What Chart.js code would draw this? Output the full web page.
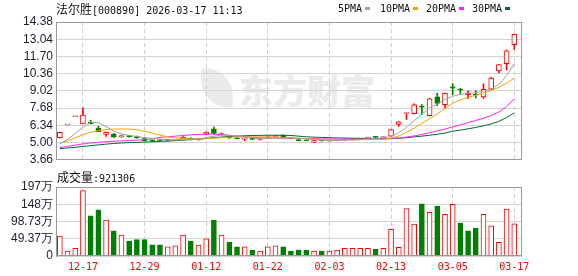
<!DOCTYPE html>
<html><head><meta charset="utf-8">
<script src="https://cdn.jsdelivr.net/npm/chart.js@4.4.1/dist/chart.umd.min.js"></script>
<style>
html,body{margin:0;padding:0;background:#fff;width:578px;height:276px;overflow:hidden;position:relative}
canvas{position:absolute;left:0}
#c1{top:0}
#c2{top:168px}
.t{position:absolute;white-space:nowrap;color:#111;line-height:14px}
.m{font-family:"DejaVu Sans Mono",monospace;font-size:10px}
.c{font-family:"Noto Sans CJK SC",sans-serif;font-size:12px}
.sw{position:absolute;width:5px;height:3px;top:7px}
#wm{position:absolute;left:239px;top:72px;font-family:"Noto Sans CJK SC",sans-serif;font-weight:900;font-size:34px;color:#ebebeb;line-height:36px}
#wmi{position:absolute;left:201px;top:68px;width:32px;height:40px;border-radius:4px 32px 4px 32px;background:#ebebeb}
</style></head>
<body>
<div id="wmi"></div>
<div id="wm">东方财富</div>
<canvas id="c1" width="578" height="170"></canvas>
<canvas id="c2" width="578" height="108"></canvas>
<div class="t" style="left:56px;top:2px"><span class="c">法尔胜</span><span class="m">[000890] 2026-03-17 11:13</span></div>
<div class="t m" style="left:338px;top:2px">5PMA</div><div class="sw" style="left:365px;background:#a8a8a8"></div>
<div class="t m" style="left:380px;top:2px">10PMA</div><div class="sw" style="left:413px;background:#f5a300"></div>
<div class="t m" style="left:426px;top:2px">20PMA</div><div class="sw" style="left:459px;background:#ff22ff"></div>
<div class="t m" style="left:472px;top:2px">30PMA</div><div class="sw" style="left:505px;background:#006a2e"></div>
<div class="t" style="left:57px;top:170px"><span class="c">成交量</span><span class="m">:921306</span></div>
<script>
const dates = ['12-12','12-15','12-16','12-17','12-18','12-19','12-22','12-23','12-24','12-25','12-26','12-29','12-30','12-31','01-05','01-06','01-07','01-08','01-09','01-12','01-13','01-14','01-15','01-16','01-19','01-20','01-21','01-22','01-23','01-26','01-27','01-28','01-29','01-30','02-02','02-03','02-04','02-05','02-06','02-09','02-10','02-11','02-12','02-13','02-24','02-25','02-26','02-27','03-02','03-03','03-04','03-05','03-06','03-09','03-10','03-11','03-12','03-13','03-16','03-17'];
const openP  = [5.39,6.37,7.01,6.46,6.60,6.13,5.64,5.64,5.46,5.52,5.47,5.32,5.20,5.20,5.16,5.19,5.26,5.34,5.22,5.67,6.06,5.62,5.46,5.33,5.27,5.32,5.24,5.37,5.45,5.56,5.36,5.22,5.20,5.03,5.15,5.13,5.15,5.20,5.24,5.28,5.32,5.42,5.38,5.50,6.42,7.26,7.24,7.82,7.10,8.56,7.94,9.33,9.17,8.73,8.76,8.56,9.15,10.58,11.13,12.61];
const highP  = [5.81,6.37,7.01,7.71,6.73,6.28,5.82,5.72,5.58,5.56,5.50,5.34,5.22,5.24,5.22,5.26,5.46,5.36,5.30,5.84,6.21,5.75,5.50,5.36,5.35,5.34,5.30,5.46,5.56,5.60,5.38,5.24,5.22,5.18,5.18,5.18,5.22,5.30,5.30,5.33,5.42,5.46,5.45,6.02,6.64,7.28,8.01,7.96,8.45,8.85,8.85,9.59,9.22,9.02,9.04,9.57,10.07,11.07,12.19,13.42];
const lowP   = [5.36,6.37,7.01,6.46,6.45,5.82,5.48,5.40,5.40,5.42,5.35,5.12,5.08,5.12,5.10,5.15,5.24,5.20,5.18,5.62,5.70,5.55,5.33,5.28,5.13,5.22,5.18,5.35,5.42,5.36,5.28,5.12,5.12,5.00,5.10,5.10,5.12,5.16,5.22,5.25,5.30,5.34,5.36,5.48,6.26,6.80,7.22,7.20,7.08,7.87,7.69,8.73,8.78,8.43,8.48,8.43,9.12,10.41,10.65,12.24];
const closeP = [5.79,6.37,7.01,7.13,6.48,5.84,5.80,5.42,5.50,5.46,5.38,5.15,5.14,5.16,5.19,5.24,5.42,5.22,5.27,5.80,5.72,5.66,5.36,5.30,5.33,5.25,5.27,5.44,5.53,5.38,5.30,5.15,5.14,5.16,5.13,5.15,5.20,5.24,5.28,5.30,5.40,5.40,5.44,6.02,6.62,7.28,7.94,7.76,8.41,8.04,8.83,9.24,9.07,8.87,8.70,9.15,10.01,11.07,12.13,13.42];
// volume in 万手, and its colour (r = rise, g = fall)
const volume = [57,14,22,187,115,132,103,72,60,43,47,47,32,32,26,29,60,43,31,49,103,60,40,26,26,17,14,26,29,26,14,17,17,14,14,14,17,22,22,22,22,20,22,76,25,136,91,149,125,143,119,148,94,72,79,119,86,39,134,92.13];
const volDir = ['r','r','r','r','g','g','r','g','r','g','g','g','g','g','r','r','r','g','r','r','g','r','g','g','r','g','r','r','r','g','g','g','g','r','g','r','r','r','r','r','r','g','r','r','r','r','r','g','r','g','r','r','g','g','g','r','r','r','r','r'];
const ma5  = [4.90,5.25,5.70,6.20,6.58,6.55,6.25,5.88,5.68,5.55,5.48,5.38,5.33,5.26,5.23,5.19,5.24,5.25,5.27,5.39,5.49,5.59,5.57,5.52,5.47,5.36,5.29,5.31,5.36,5.36,5.36,5.35,5.30,5.23,5.18,5.15,5.16,5.18,5.20,5.23,5.28,5.32,5.36,5.48,5.76,6.18,6.72,7.20,7.70,8.00,8.35,8.60,8.75,8.82,8.88,9.00,9.15,9.55,10.20,11.15];
const ma10 = [4.95,5.12,5.38,5.62,5.80,5.92,6.00,6.05,6.06,6.05,6.00,5.88,5.73,5.58,5.45,5.36,5.32,5.30,5.27,5.30,5.35,5.38,5.42,5.44,5.46,5.45,5.44,5.43,5.44,5.40,5.36,5.32,5.30,5.27,5.24,5.22,5.21,5.21,5.21,5.22,5.23,5.24,5.26,5.35,5.52,5.80,6.12,6.50,6.85,7.22,7.65,8.05,8.32,8.52,8.68,8.85,9.05,9.30,9.62,10.02];
const ma20 = [4.61,4.70,4.80,4.90,4.97,5.02,5.07,5.10,5.13,5.16,5.19,5.22,5.30,5.40,5.46,5.50,5.55,5.60,5.63,5.66,5.65,5.62,5.57,5.49,5.43,5.40,5.37,5.36,5.35,5.34,5.33,5.32,5.31,5.30,5.29,5.28,5.27,5.27,5.27,5.27,5.27,5.27,5.27,5.30,5.36,5.43,5.52,5.63,5.76,5.90,6.05,6.22,6.38,6.55,6.72,6.90,7.10,7.38,7.80,8.41];
const ma30 = [4.53,4.58,4.63,4.70,4.76,4.82,4.88,4.93,4.97,5.00,5.02,5.04,5.06,5.09,5.12,5.15,5.19,5.23,5.27,5.32,5.38,5.43,5.47,5.50,5.53,5.55,5.56,5.57,5.57,5.57,5.55,5.50,5.45,5.42,5.40,5.38,5.36,5.35,5.34,5.33,5.32,5.31,5.31,5.32,5.34,5.38,5.44,5.50,5.57,5.65,5.74,5.88,5.97,6.07,6.18,6.30,6.45,6.65,6.95,7.32];
const priceTicks = [3.66,5.00,6.34,7.68,9.02,10.36,11.70,13.04,14.38];
const volTickValues = [0,49.37,98.73,148.10,197.46];
const volTickLabels = ['0','49.37万','98.73万','148万','197万'];
const xTickLabels = ['12-17','12-29','01-12','01-22','02-03','02-13','03-05','03-17'];

const RED = '#ff0000', GREEN = '#008000';
const idx = dates.map((d,i)=>i);
const up = idx.map(i => closeP[i] >= openP[i]);
const vUp = idx.map(i => volDir[i] === 'r');
const xTickIdx = xTickLabels.map(l => dates.indexOf(l));

const frame = {id:'frame', afterDraw(c){const a=c.chartArea, g=c.ctx; g.save(); g.strokeStyle='#9a9a9a'; g.lineWidth=1;
  g.strokeRect(Math.round(a.left)+0.5, Math.round(a.top)+0.5, Math.round(a.right-a.left)-1, Math.round(a.bottom-a.top)-1); g.restore();}};

function xScale(showLabels){
  return {type:'linear', min:-0.5, max:60, offset:false,
    afterBuildTicks: s => { s.ticks = xTickIdx.map(v => ({value:v})); },
    afterFit: s => { s.height = showLabels ? 20 : 0; },
    grid:{color:'#cfcfcf', drawTicks:false, lineWidth:1, offset:false},
    border:{display:false, dash:[4,3]},
    ticks:{display:showLabels, color:RED, padding:5, autoSkip:false, maxRotation:0,
      font:{family:'DejaVu Sans Mono', size:10},
      callback: v => dates[v] }
  };
}

Chart.defaults.animation = false;

new Chart(document.getElementById('c1'), {
  type:'bar',
  data:{datasets:[
    {type:'line', data: idx.map(i=>({x:i,y:ma5[i]})),  borderColor:'#a0a0a0', borderWidth:1, pointRadius:0, order:0},
    {type:'line', data: idx.map(i=>({x:i,y:ma10[i]})), borderColor:'#f5a300', borderWidth:1, pointRadius:0, order:0},
    {type:'line', data: idx.map(i=>({x:i,y:ma20[i]})), borderColor:'#ff22ff', borderWidth:1, pointRadius:0, order:0},
    {type:'line', data: idx.map(i=>({x:i,y:ma30[i]})), borderColor:'#006a2e', borderWidth:1, pointRadius:0, order:0},
    {data: idx.map(i=>({x:i,y:[lowP[i],highP[i]]})), backgroundColor: idx.map(i=>up[i]?RED:GREEN),
      barThickness:1, grouped:false, order:3},
    {data: idx.map(i=>({x:i,y:[openP[i],closeP[i]]})), backgroundColor: idx.map(i=>up[i]?'#ffffff':GREEN),
      borderColor: idx.map(i=>up[i]?RED:GREEN), borderWidth:1, borderSkipped:false, minBarLength:1,
      barThickness:5, grouped:false, order:2}
  ]},
  options:{responsive:false, animation:false,
    layout:{padding:{left:0,right:56,top:22,bottom:5}},
    plugins:{legend:{display:false}, tooltip:{enabled:false}},
    scales:{
      x: xScale(false),
      y:{min:3.66, max:14.38,
        afterBuildTicks: s => { s.ticks = priceTicks.map(v=>({value:v})); },
        afterFit: s => { s.width = 56; },
        grid:{color:'#d4d4d4', drawTicks:false},
        border:{color:'#9a9a9a'},
        ticks:{color:'#1e1e2e', padding:3, autoSkip:false, font:{family:'Liberation Sans', size:12},
          callback: v => v.toFixed(2)}
      }
    }
  },
  plugins:[frame]
});

new Chart(document.getElementById('c2'), {
  type:'bar',
  data:{datasets:[
    {data: idx.map(i=>({x:i,y:volume[i]})), backgroundColor: idx.map(i=>vUp[i]?'#ffffff':GREEN),
      borderColor: idx.map(i=>vUp[i]?RED:GREEN), borderWidth:1, borderSkipped:'bottom', barThickness:5}
  ]},
  options:{responsive:false, animation:false,
    layout:{padding:{left:0,right:56,top:19,bottom:0}},
    plugins:{legend:{display:false}, tooltip:{enabled:false}},
    scales:{
      x: xScale(true),
      y:{min:0, max:197.46,
        afterBuildTicks: s => { s.ticks = volTickValues.map(v=>({value:v})); },
        afterFit: s => { s.width = 56; },
        grid:{color:'#d4d4d4', drawTicks:false},
        border:{color:'#9a9a9a'},
        ticks:{color:'#1e1e2e', padding:3, autoSkip:false, font:{family:'Liberation Sans', size:12},
          callback: (v) => volTickLabels[volTickValues.indexOf(v)]}
      }
    }
  },
  plugins:[frame]
});
</script>
</body></html>
